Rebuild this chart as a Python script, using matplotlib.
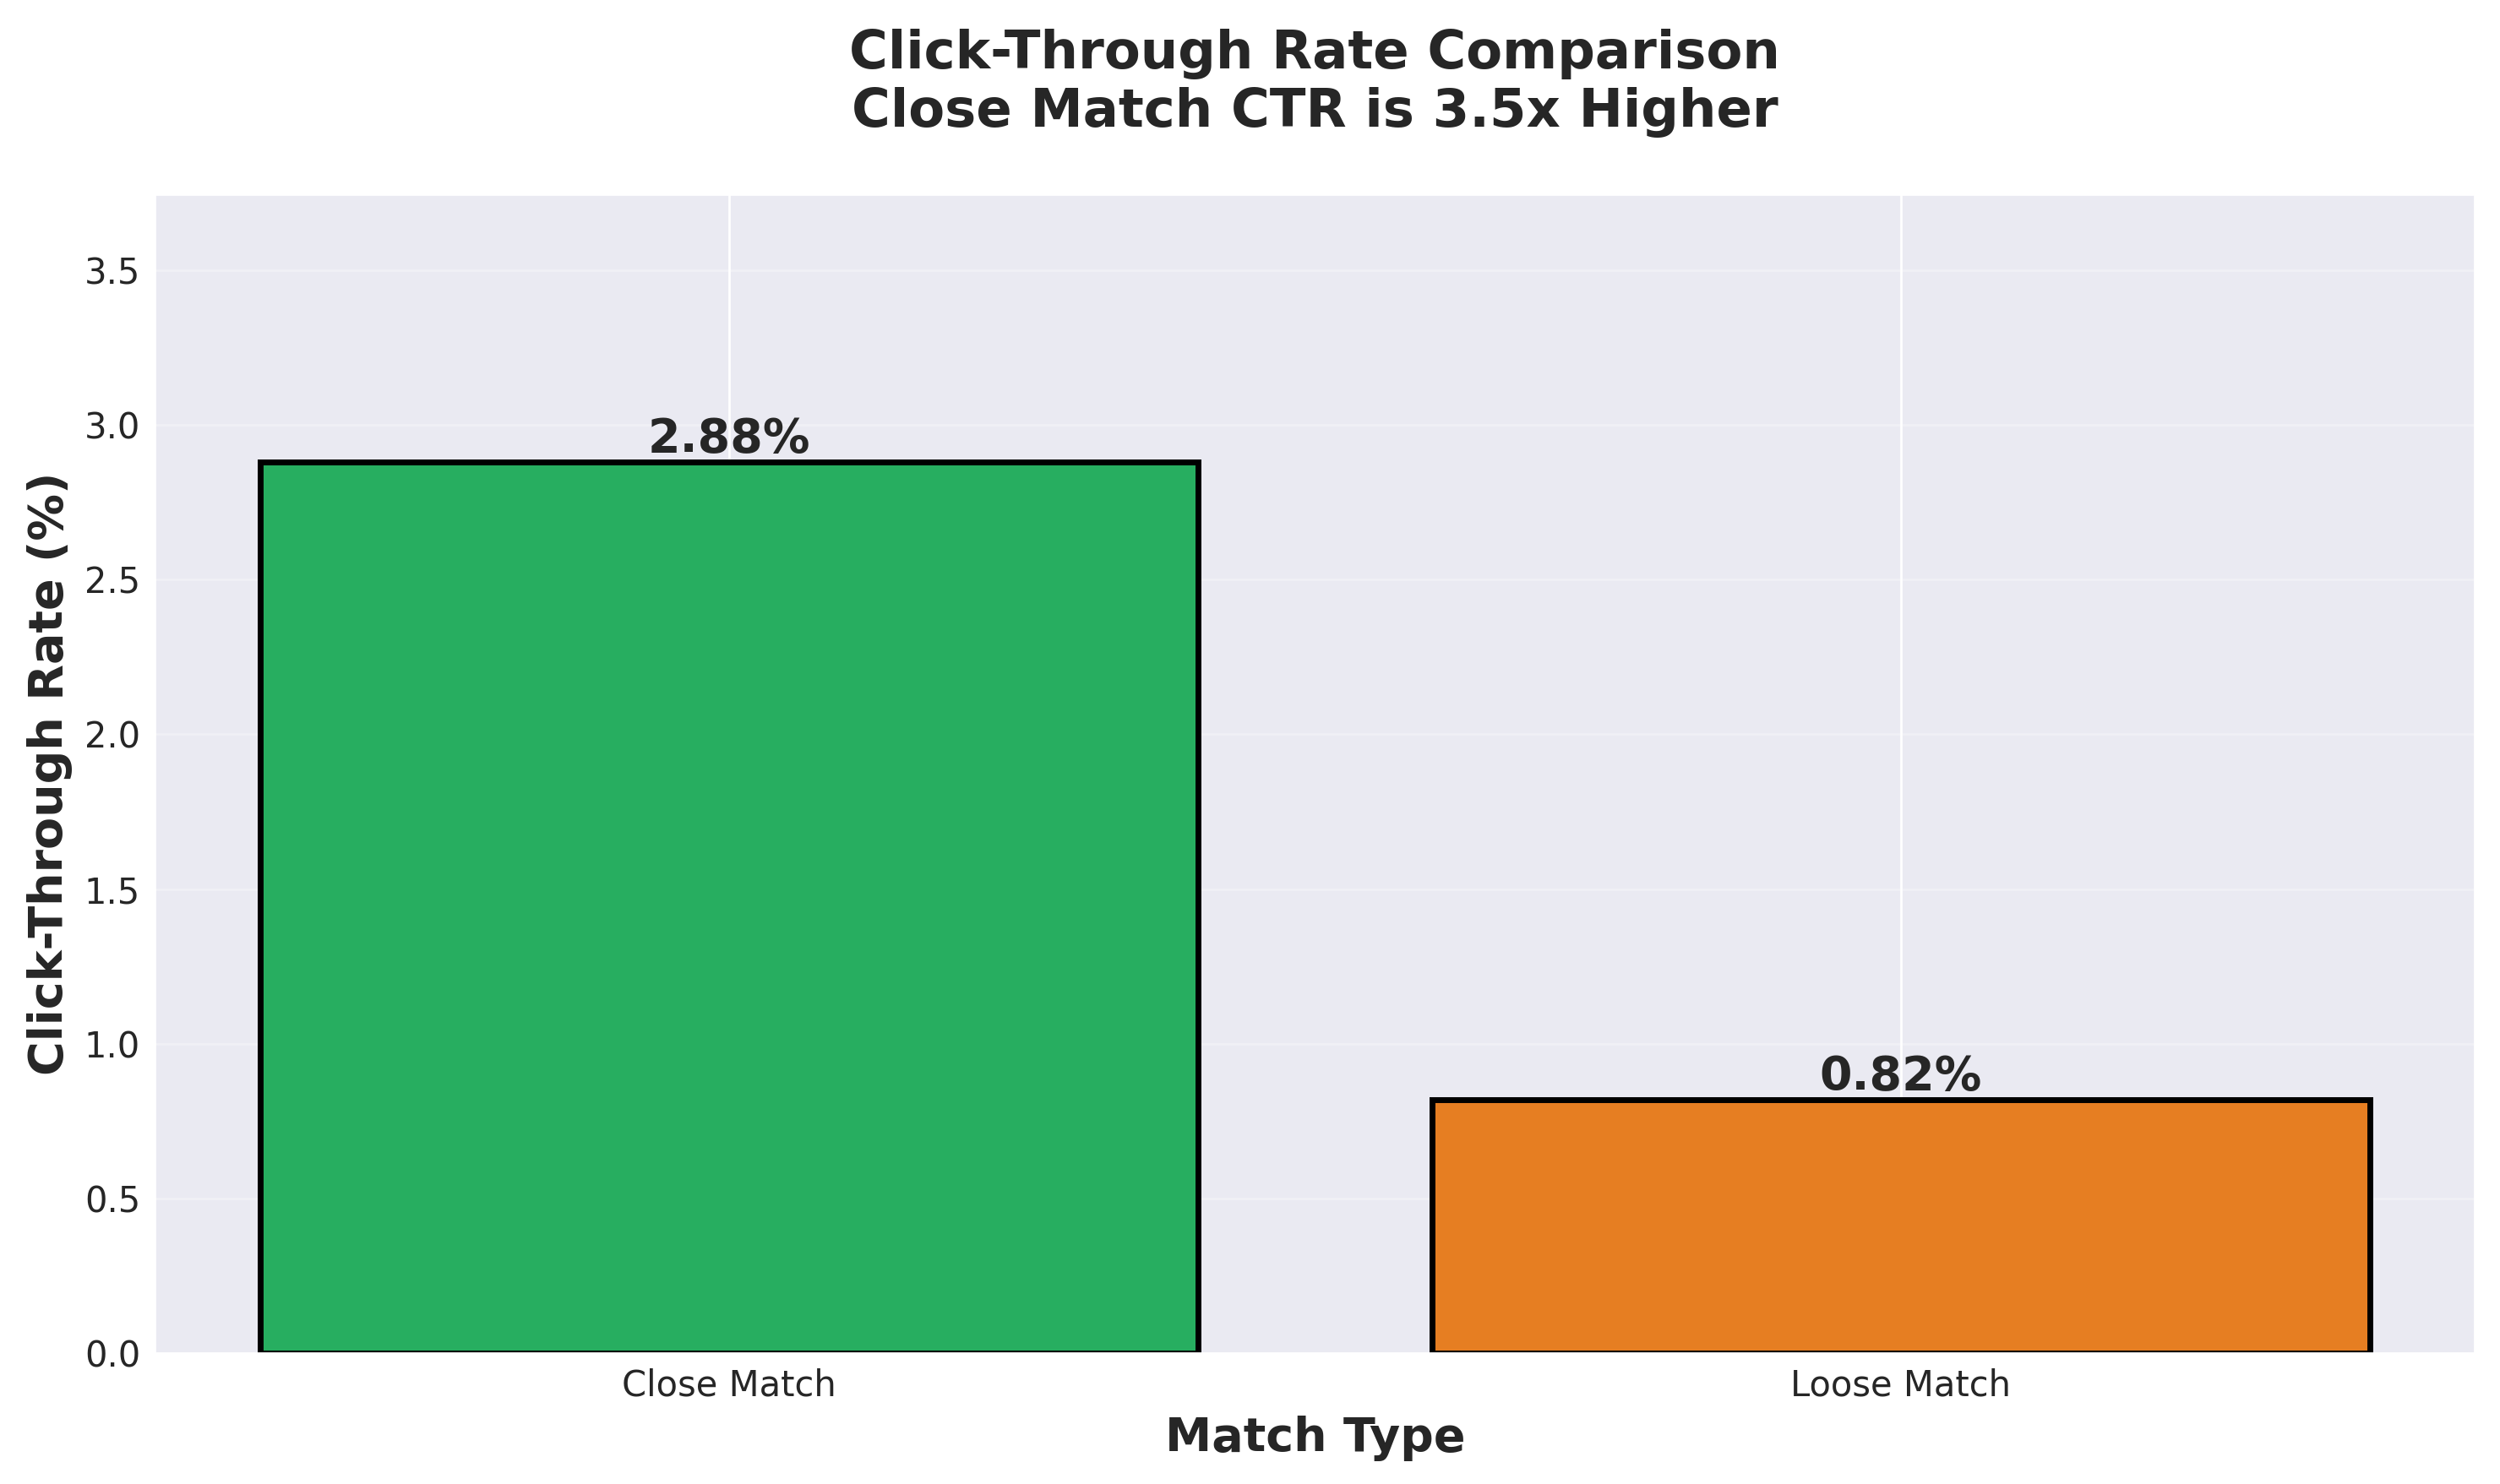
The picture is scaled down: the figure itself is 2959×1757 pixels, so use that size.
import matplotlib
matplotlib.use("Agg")
import matplotlib.pyplot as plt
import seaborn as sns

match_types = ["Close Match", "Loose Match"]
ctr_values = [2.88, 0.82]
bar_colors = ["#27AE60", "#E67E22"]

sns.set_style("darkgrid")

fig, ax = plt.subplots(figsize=(11.836, 7.028), dpi=250)
fig.subplots_adjust(left=0.062, right=0.990, top=0.869, bottom=0.088)

bars = ax.bar(match_types, ctr_values, color=bar_colors, edgecolor="black", linewidth=2)

for bar, val in zip(bars, ctr_values):
    ax.text(bar.get_x() + bar.get_width() / 2, bar.get_height(), f"{val:.2f}%",
            ha="center", va="bottom", fontsize=16, fontweight="bold", color="#262626")

ratio = ctr_values[0] / ctr_values[1]
ax.set_title(f"Click-Through Rate Comparison\nClose Match CTR is {ratio:.1f}x Higher",
             fontsize=18, fontweight="bold", pad=23, color="#262626")
ax.set_xlabel("Match Type", fontsize=16, fontweight="bold")
ax.set_ylabel("Click-Through Rate (%)", fontsize=16, fontweight="bold")
ax.set_ylim(0, max(ctr_values) * 1.3)
ax.tick_params(axis="both", labelsize=12, pad=1.5)
ax.grid(axis="y", alpha=0.3)

fig.savefig("out.png", dpi=250)
